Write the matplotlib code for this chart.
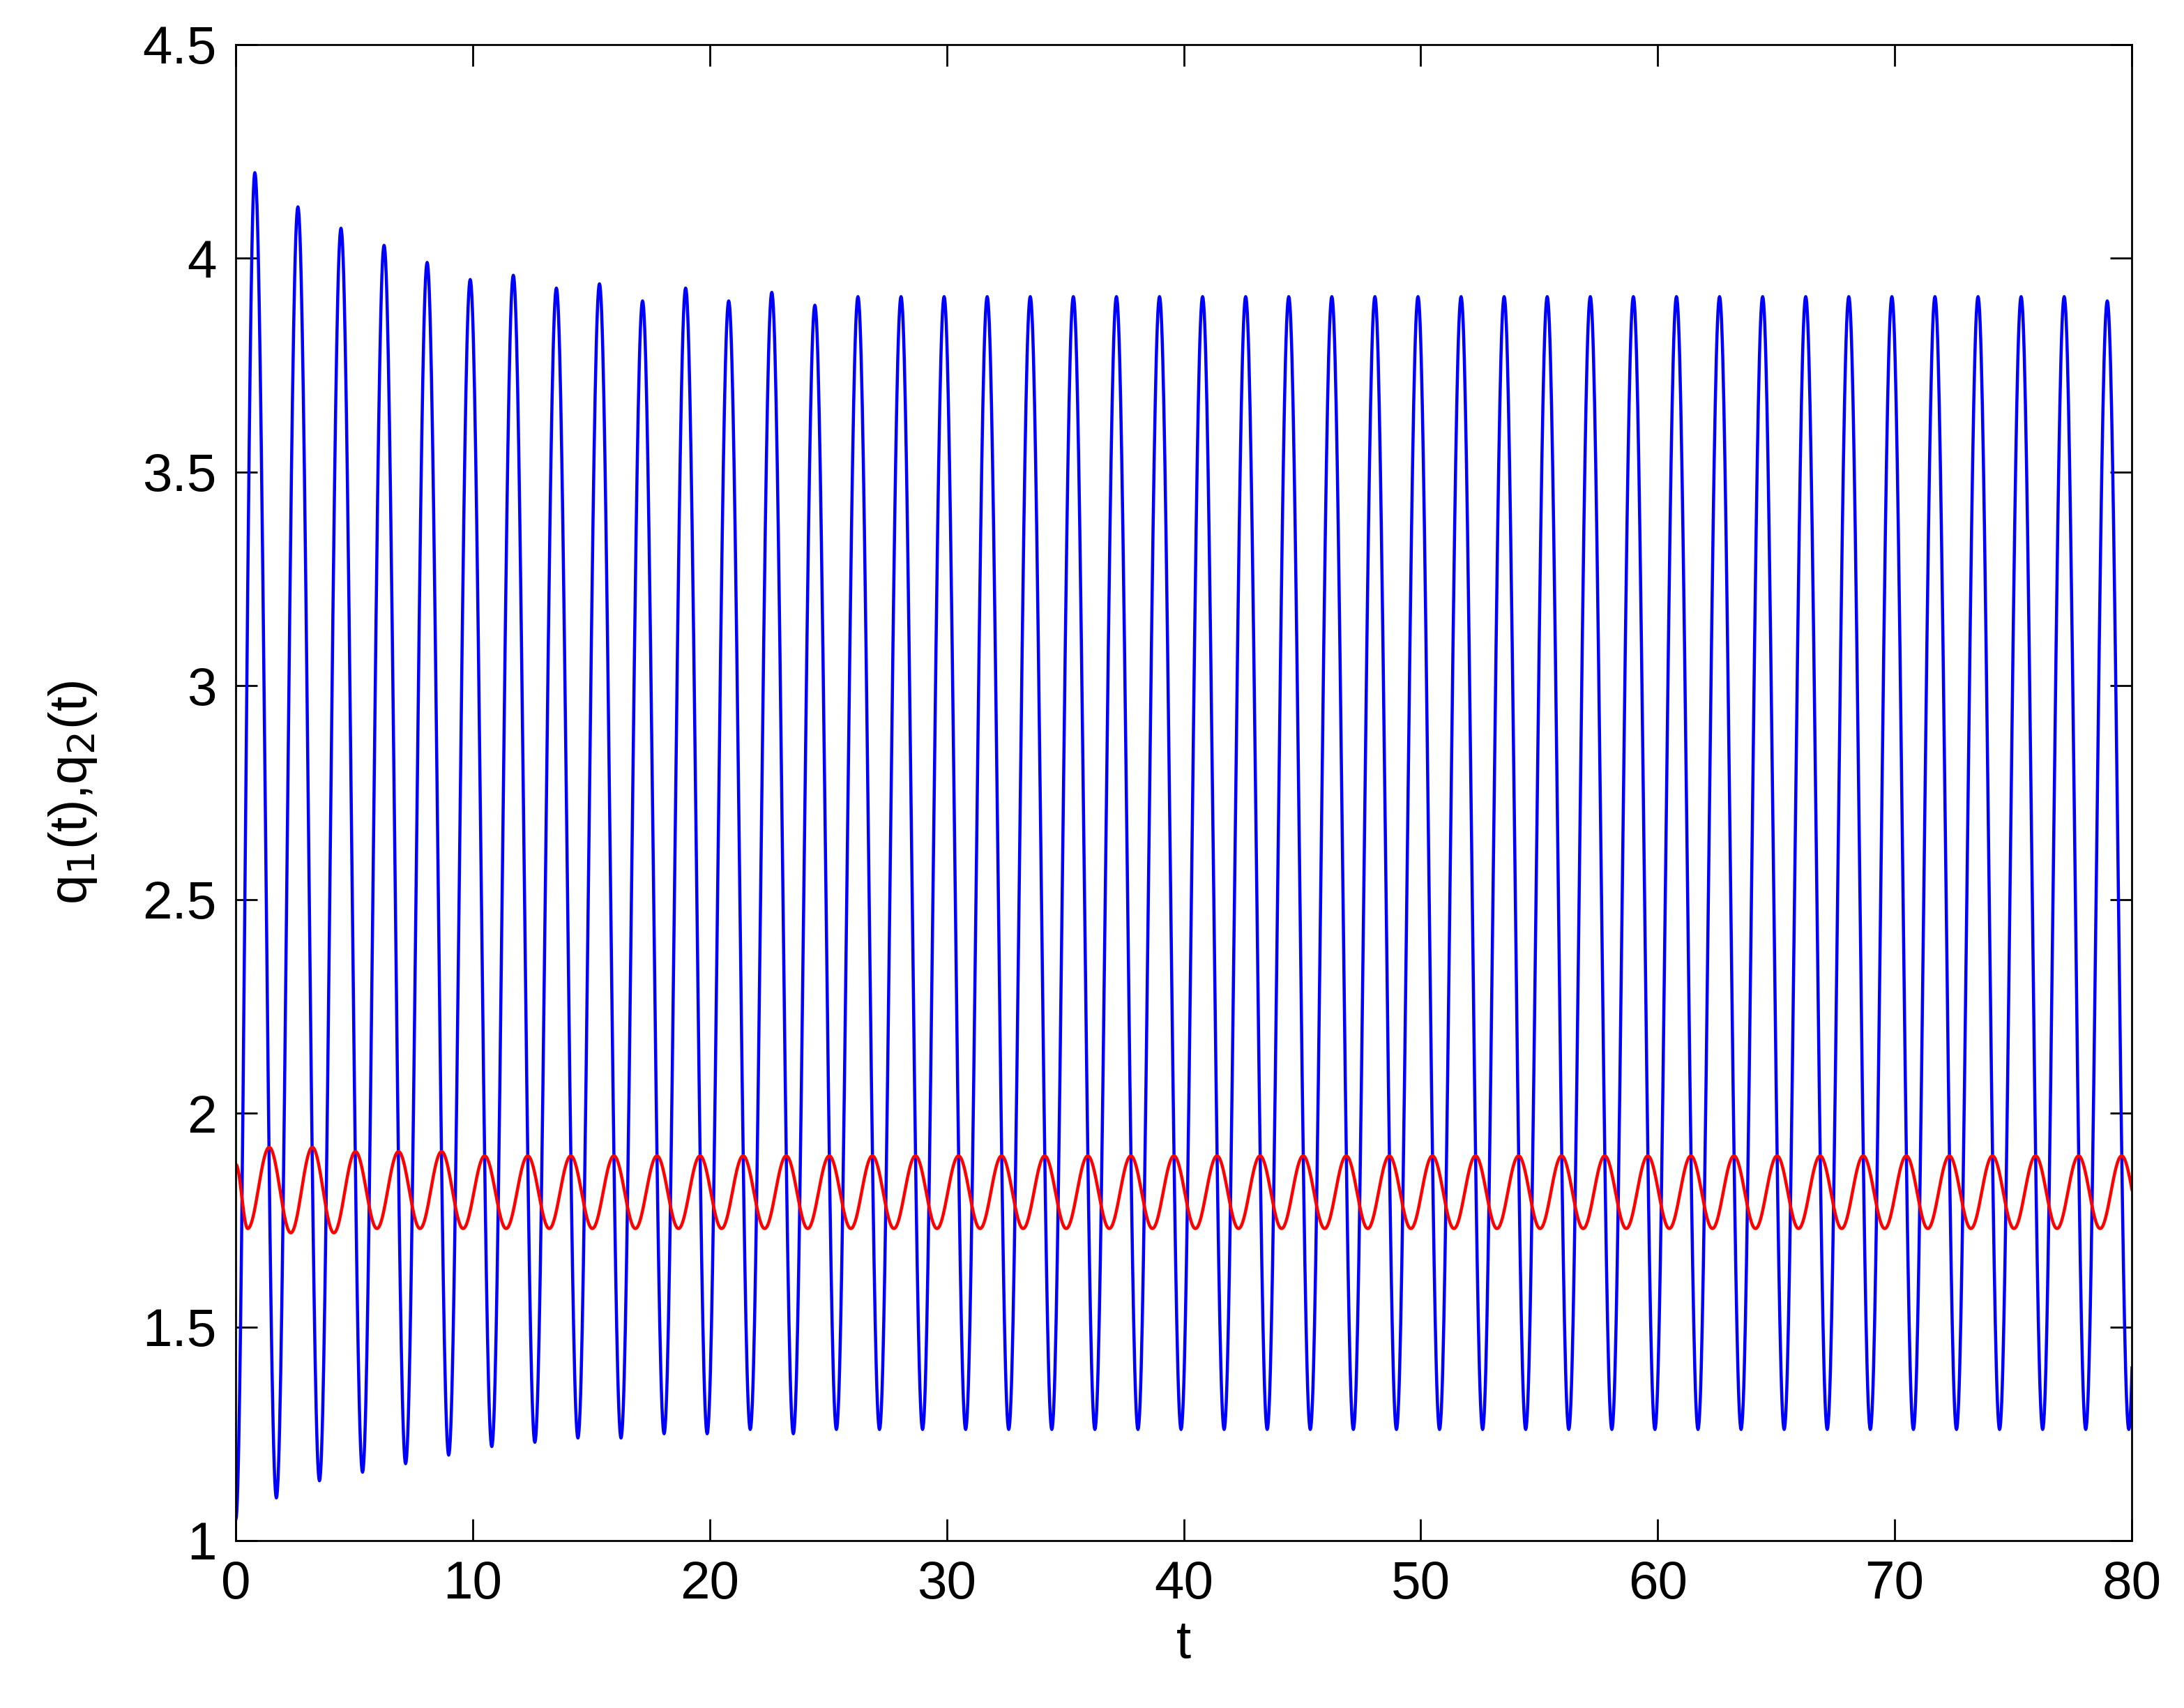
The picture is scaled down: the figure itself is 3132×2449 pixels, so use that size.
import numpy as np
import matplotlib.pyplot as plt

plt.rcParams['font.family'] = ['Liberation Sans', 'DejaVu Sans']

period = 1.818

# q1: peak / trough values, one per cycle
q1_start = 1.05
q1_peaks = [4.20, 4.12, 4.07, 4.03, 3.99, 3.95, 3.96, 3.93, 3.94, 3.90, 3.93, 3.90,
            3.92, 3.89, 3.91, 3.91, 3.91, 3.91, 3.91, 3.91, 3.91, 3.91, 3.91, 3.91,
            3.91, 3.91, 3.91, 3.91, 3.91, 3.91, 3.91, 3.91, 3.91, 3.91, 3.91, 3.91,
            3.91, 3.91, 3.91, 3.91, 3.91, 3.91, 3.91, 3.90, 3.90]
q1_troughs = [1.10, 1.14, 1.16, 1.18, 1.20, 1.22, 1.23, 1.24, 1.24, 1.25, 1.25, 1.26,
              1.25, 1.26, 1.26, 1.26, 1.26, 1.26, 1.26, 1.26, 1.26, 1.26, 1.26, 1.26,
              1.26, 1.26, 1.26, 1.26, 1.26, 1.26, 1.26, 1.26, 1.26, 1.26, 1.26, 1.26,
              1.26, 1.26, 1.26, 1.26, 1.26, 1.26, 1.26, 1.26]
q1_first_peak = 0.8

# q2
q2_start = 1.88
q2_first_trough = 0.5
q2_peaks = [1.92, 1.92, 1.91, 1.91, 1.91] + [1.90] * 40
q2_troughs = [1.73, 1.72, 1.72, 1.73, 1.73] + [1.73] * 40


def knots(start, t0, first, second):
    ts, vs = [0.0], [start]
    for k in range(len(first)):
        ts.append(t0 + k * period); vs.append(first[k])
        if k < len(second):
            ts.append(t0 + (k + 0.5) * period); vs.append(second[k])
    return np.array(ts), np.array(vs)


def smooth(ts, vs, n=40):
    xs, ys = [], []
    for i in range(len(ts) - 1):
        s = np.linspace(0, 1, n, endpoint=False)
        w = (1 - np.cos(np.pi * s)) / 2
        xs.append(ts[i] + (ts[i + 1] - ts[i]) * s)
        ys.append(vs[i] + (vs[i + 1] - vs[i]) * w)
    return np.concatenate(xs), np.concatenate(ys)


t1, v1 = smooth(*knots(q1_start, q1_first_peak, q1_peaks, q1_troughs))
t2, v2 = smooth(*knots(q2_start, q2_first_trough, q2_troughs, q2_peaks))

fig = plt.figure(figsize=(12.528, 9.796), dpi=250)
ax = fig.add_axes([0.108, 0.098, 0.868, 0.876])
ax.plot(t1, v1, color='#0000ff', lw=1.3)
ax.plot(t2, v2, color='#ff0000', lw=1.3)
ax.set_xlim(0, 80)
ax.set_ylim(1, 4.5)
ax.set_xticks(range(0, 81, 10))
ax.set_yticks([1, 1.5, 2, 2.5, 3, 3.5, 4, 4.5])
ax.set_yticklabels(['1', '1.5', '2', '2.5', '3', '3.5', '4', '4.5'])
ax.tick_params(direction='in', top=True, right=True, labelsize=22, length=9, pad=8)
ax.set_xlabel('t', fontsize=22, labelpad=4)
ax.set_ylabel(r'q$_1$(t),q$_2$(t)', fontsize=22, labelpad=18)
fig.savefig('out.png')
